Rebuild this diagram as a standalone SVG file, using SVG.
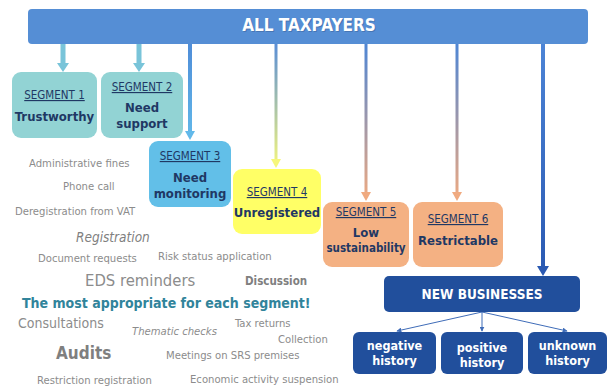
<svg xmlns="http://www.w3.org/2000/svg" width="608" height="391" viewBox="0 0 608 391">
  <style>
    .lbl { font-family: "DejaVu Sans Condensed", "Liberation Sans", sans-serif; text-anchor: middle; }
    .seg { font-size: 11.5px; fill: #1F3864; text-decoration: underline; }
    .name { font-size: 13px; font-weight: bold; fill: #1F3864; }
    .white { fill: #FFFFFF; font-weight: bold; }
    .shadow { fill: #3A5F95; font-weight: bold; opacity: 0.5; }
    .cloud { font-family: "DejaVu Sans Condensed", "Liberation Sans", sans-serif; fill: #8C8C8C; font-size: 11.2px; }
    .dark { fill: #7F7F7F; }
    .accent { fill: #31849B; font-weight: bold; }
  </style>
  <defs>
    <linearGradient id="gYellow" gradientUnits="userSpaceOnUse" x1="0" y1="44" x2="0" y2="168">
      <stop offset="0" stop-color="#5A8ED6"/>
      <stop offset="1" stop-color="#F6F77C"/>
    </linearGradient>
    <linearGradient id="gOrange" gradientUnits="userSpaceOnUse" x1="0" y1="44" x2="0" y2="201">
      <stop offset="0" stop-color="#4F86D4"/>
      <stop offset="1" stop-color="#F0AA80"/>
    </linearGradient>
    <linearGradient id="gBlue" gradientUnits="userSpaceOnUse" x1="0" y1="44" x2="0" y2="275">
      <stop offset="0" stop-color="#4C84D6"/>
      <stop offset="1" stop-color="#2A59B2"/>
    </linearGradient>
    <linearGradient id="gSky" gradientUnits="userSpaceOnUse" x1="0" y1="44" x2="0" y2="140">
      <stop offset="0" stop-color="#4F8DD8"/>
      <stop offset="1" stop-color="#62B9EA"/>
    </linearGradient>
    <marker id="tip" viewBox="0 0 8 8" refX="7" refY="4" markerWidth="5" markerHeight="5" orient="auto">
      <path d="M0,0 L8,4 L0,8 z" fill="#3F6CB8"/>
    </marker>
  </defs>

  <!-- connectors -->
  <g id="connectors">
    <rect x="60.5" y="44" width="5" height="21" fill="#79C4D9"/>
    <polygon points="57,63 69,63 63,72" fill="#79C4D9"/>
    <rect x="136.5" y="44" width="5" height="21" fill="#79C4D9"/>
    <polygon points="133,63 145,63 139,72" fill="#79C4D9"/>
    <rect x="188" y="44" width="4" height="88" fill="url(#gSky)"/>
    <polygon points="185,131 195,131 190,140" fill="#62B9EA"/>
    <rect x="274.5" y="44" width="3" height="116" fill="url(#gYellow)"/>
    <polygon points="271,159 281,159 276,168" fill="#F6F77C"/>
    <rect x="364.5" y="44" width="3" height="149" fill="url(#gOrange)"/>
    <polygon points="361,192 371,192 366,201" fill="#F0AA80"/>
    <rect x="455.5" y="44" width="3" height="149" fill="url(#gOrange)"/>
    <polygon points="452,192 462,192 457,201" fill="#F0AA80"/>
    <rect x="541" y="44" width="4" height="223" fill="url(#gBlue)"/>
    <polygon points="537,266 549,266 543,276" fill="#2A59B2"/>
    <line x1="482" y1="312" x2="397" y2="331" stroke="#3F6CB8" stroke-width="1" marker-end="url(#tip)"/>
    <line x1="482" y1="312" x2="482" y2="331" stroke="#3F6CB8" stroke-width="1" marker-end="url(#tip)"/>
    <line x1="482" y1="312" x2="567" y2="331" stroke="#3F6CB8" stroke-width="1" marker-end="url(#tip)"/>
  </g>

  <!-- header -->
  <g id="all-taxpayers">
    <rect x="28" y="9" width="560" height="35" rx="4" fill="#558ED5"/>
    <text class="lbl shadow" x="309" y="31" font-size="17" dx="1" dy="1">ALL TAXPAYERS</text>
    <text class="lbl white" x="309" y="31" font-size="17">ALL TAXPAYERS</text>
  </g>

  <g id="segment-1">
    <rect x="12" y="72" width="85" height="66" rx="9" fill="#92D3D4"/>
    <text class="lbl seg" x="54.5" y="99">SEGMENT 1</text>
    <text class="lbl name" x="54.5" y="121">Trustworthy</text>
  </g>
  <g id="segment-2">
    <rect x="101" y="72" width="82" height="66" rx="9" fill="#92D3D4"/>
    <text class="lbl seg" x="142" y="91">SEGMENT 2</text>
    <text class="lbl name" x="142" y="112">Need</text>
    <text class="lbl name" x="142" y="128">support</text>
  </g>
  <g id="segment-3">
    <rect x="149" y="141" width="82" height="66" rx="9" fill="#62BFE8"/>
    <text class="lbl seg" x="190" y="160">SEGMENT 3</text>
    <text class="lbl name" x="190" y="182">Need</text>
    <text class="lbl name" x="190" y="198">monitoring</text>
  </g>
  <g id="segment-4">
    <rect x="233" y="169" width="88" height="65" rx="9" fill="#FFFF66"/>
    <text class="lbl seg" x="277" y="196">SEGMENT 4</text>
    <text class="lbl name" x="277" y="217">Unregistered</text>
  </g>
  <g id="segment-5">
    <rect x="323" y="202" width="86" height="65" rx="9" fill="#F4B183"/>
    <text class="lbl seg" x="366" y="216">SEGMENT 5</text>
    <text class="lbl name" x="366" y="237">Low</text>
    <text class="lbl name" x="366" y="252" style="font-size:11.5px">sustainability</text>
  </g>
  <g id="segment-6">
    <rect x="413" y="202" width="90" height="65" rx="9" fill="#F4B183"/>
    <text class="lbl seg" x="458" y="223">SEGMENT 6</text>
    <text class="lbl name" x="458" y="245">Restrictable</text>
  </g>

  <g id="new-businesses">
    <rect x="384" y="276" width="196" height="36" rx="5" fill="#214F9C"/>
    <text class="lbl white" x="482" y="299" font-size="13.5">NEW BUSINESSES</text>
  </g>
  <g id="negative-history">
    <rect x="353" y="332" width="83" height="42" rx="6" fill="#214F9C"/>
    <text class="lbl white" x="394.5" y="349.5" font-size="12.5">negative</text>
    <text class="lbl white" x="394.5" y="365" font-size="12.5">history</text>
  </g>
  <g id="positive-history">
    <rect x="441" y="332" width="82" height="42" rx="6" fill="#214F9C"/>
    <text class="lbl white" x="482" y="351.5" font-size="12.5">positive</text>
    <text class="lbl white" x="482" y="367" font-size="12.5">history</text>
  </g>
  <g id="unknown-history">
    <rect x="528" y="332" width="79" height="42" rx="6" fill="#214F9C"/>
    <text class="lbl white" x="567.5" y="349.5" font-size="12.5">unknown</text>
    <text class="lbl white" x="567.5" y="365" font-size="12.5">history</text>
  </g>

  <!-- word cloud of measures -->
  <g id="measures">
    <text class="cloud" x="29" y="167">Administrative fines</text>
    <text class="cloud" x="63" y="190">Phone call</text>
    <text class="cloud" x="15" y="215">Deregistration from VAT</text>
    <text class="cloud dark" x="76" y="242" style="font-size:13.5px;font-style:italic">Registration</text>
    <text class="cloud" x="38" y="262">Document requests</text>
    <text class="cloud" x="158" y="260">Risk status application</text>
    <text class="cloud" x="85" y="286" style="font-size:16.5px">EDS reminders</text>
    <text class="cloud dark" x="245" y="285" style="font-size:11.5px;font-weight:bold">Discussion</text>
    <text class="cloud accent" x="22" y="308" style="font-size:14px">The most appropriate for each segment!</text>
    <text class="cloud" x="18" y="328" style="font-size:14px">Consultations</text>
    <text class="cloud" x="132" y="335" style="font-style:italic">Thematic checks</text>
    <text class="cloud" x="235" y="327">Tax returns</text>
    <text class="cloud" x="278" y="343">Collection</text>
    <text class="cloud dark" x="56" y="359" style="font-size:17px;font-weight:bold">Audits</text>
    <text class="cloud" x="166" y="359">Meetings on SRS premises</text>
    <text class="cloud" x="37" y="384">Restriction registration</text>
    <text class="cloud" x="190" y="383">Economic activity suspension</text>
  </g>
</svg>
